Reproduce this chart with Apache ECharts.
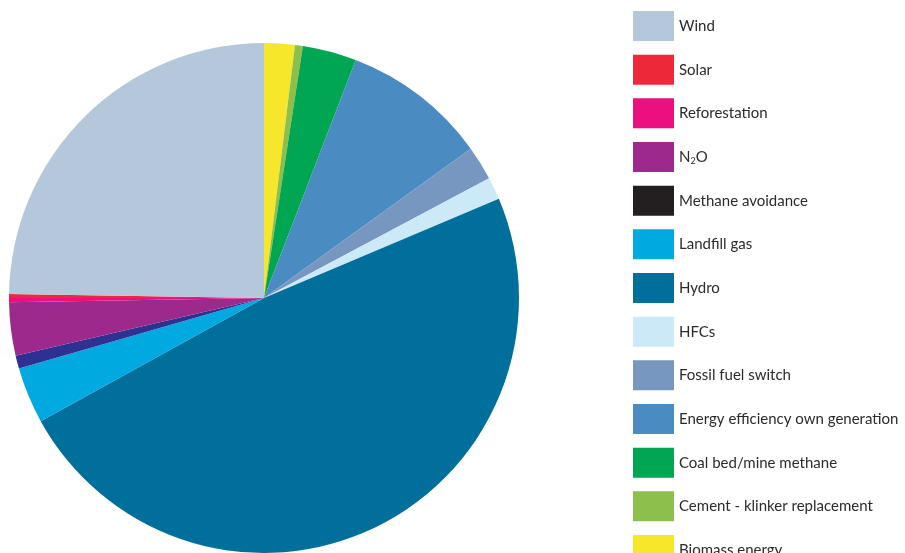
<!DOCTYPE html>
<html>
<head>
<meta charset="utf-8">
<script src="https://cdn.jsdelivr.net/npm/echarts@6/dist/echarts.min.js"></script>
<style>html,body{margin:0;padding:0;background:#fff;}#c{width:905px;height:553px;}</style>
</head>
<body>
<div id="c"></div>
<script>
// Legend order (top to bottom)
const categories = ['Wind','Solar','Reforestation','N2O','Methane avoidance','Landfill gas','Hydro','HFCs','Fossil fuel switch','Energy efficiency own generation','Coal bed/mine methane','Cement - klinker replacement','Biomass energy'];
// Share of total (%)
const shares = [24.75, 0.25, 0.28, 3.36, 0.83, 3.56, 48.36, 1.42, 2.17, 9.19, 3.42, 0.5, 1.94];
const legendColors = ['#b5c7da','#ed2939','#ec0f80','#9b2a8c','#231f20','#00a9e0','#006f9c','#cce9f7','#7797c1','#4a8bc2','#00a651','#8dc04a','#f7e72a'];
const sliceColors  = ['#b5c7da','#ed2939','#ec0f80','#9b2a8c','#2e3192','#00a9e0','#006f9c','#cce9f7','#7797c1','#4a8bc2','#00a651','#8dc04a','#f7e72a'];

const pieData = categories.map((n,i)=>({name:n, value:shares[i], itemStyle:{color:sliceColors[i]}})).reverse();
const legendData = categories.map((n,i)=>({name:n, itemStyle:{color:legendColors[i]}}));

const chart = echarts.init(document.getElementById('c'), null, {renderer:'canvas'});
chart.setOption({
  animation:false,
  legend:{
    orient:'vertical', left:633, top:11, height:900, padding:0,
    itemWidth:41, itemHeight:30, itemGap:13.67,
    icon:'rect', selectedMode:false,
    data:legendData,
    formatter:function(n){return n==='N2O' ? 'N{sub|2}O' : n;},
    textStyle:{fontFamily:'Lato', fontSize:15, color:'#2b2b2b', padding:[0,0,0,0],
      rich:{sub:{fontSize:9, fontFamily:'Lato', color:'#2b2b2b', padding:[8,0,0,0]}}}
  },
  series:[{
    type:'pie', center:[264,298], radius:[0,255], startAngle:90, clockwise:true,
    label:{show:false}, labelLine:{show:false}, silent:true,
    itemStyle:{borderWidth:0},
    data:pieData
  }]
});
</script>
</body>
</html>
